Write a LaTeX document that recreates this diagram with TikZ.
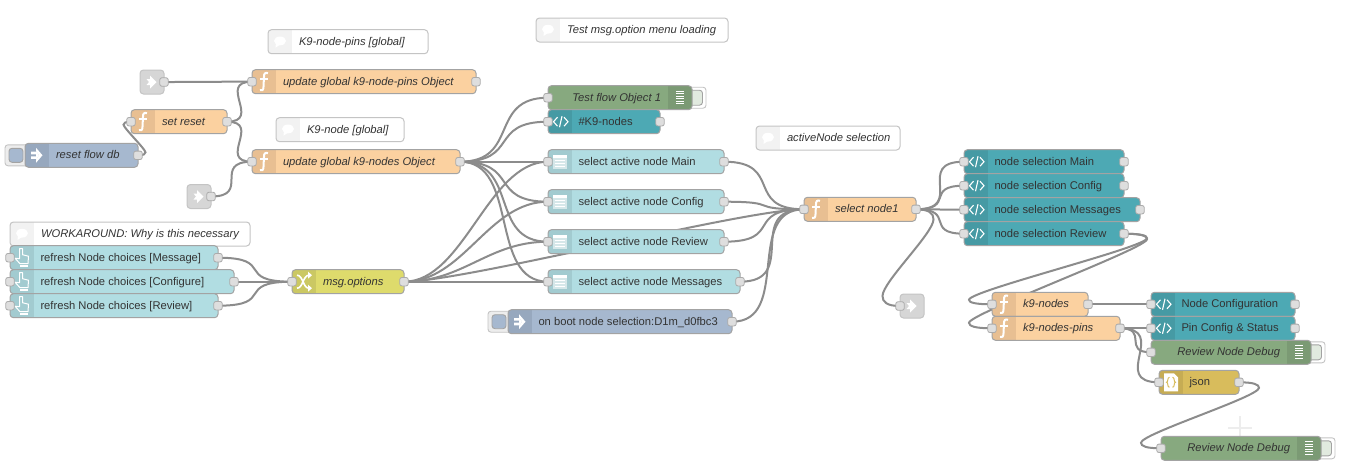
\documentclass[tikz,border=0pt]{standalone}
\usepackage{fontspec}
\setmainfont{Liberation Sans}
\pgfdeclarelayer{wires}
\pgfdeclarelayer{under}
\pgfsetlayers{wires,under,main}
\definecolor{cFun}{HTML}{FBD1A0}\definecolor{cFunD}{HTML}{E8BF92}
\definecolor{cCom}{HTML}{FFFFFF}\definecolor{cComD}{HTML}{F2F2F2}
\definecolor{cInj}{HTML}{A6B8CF}\definecolor{cInjD}{HTML}{97A8BE}
\definecolor{cLnk}{HTML}{D6D6D6}
\definecolor{cTpl}{HTML}{4DA9B4}\definecolor{cTplD}{HTML}{469AA4}
\definecolor{cDrp}{HTML}{B1DDE2}\definecolor{cDrpD}{HTML}{A2CBD0}
\definecolor{cDbg}{HTML}{87A97F}\definecolor{cDbgD}{HTML}{7B9A74}
\definecolor{cChg}{HTML}{DEDB6C}\definecolor{cChgD}{HTML}{CBC863}
\definecolor{cJsn}{HTML}{D8BC5C}\definecolor{cJsnD}{HTML}{C6AC54}
\definecolor{cEdge}{HTML}{A3A3A3}\definecolor{cEdgeL}{HTML}{C4C4C4}
\definecolor{cWire}{HTML}{8C8C8C}
\tikzset{
  nrbox/.style={rectangle,rounded corners=3.5pt,minimum height=24pt,inner sep=0pt,outer sep=0pt},
  nrtext/.style={inner sep=0pt,outer sep=0pt,text=black!80,text height=8pt,text depth=1pt,
     font=\fontsize{11.2}{13}\selectfont},
  nrit/.style={nrtext,font=\fontsize{11.2}{13}\selectfont\itshape},
  portbox/.style={rectangle,rounded corners=2pt,minimum width=8.4pt,minimum height=8.4pt,inner sep=0pt,
     outer sep=0pt,fill=black!13,draw=black!33,line width=.8pt},
  wire/.style={draw=cWire,line width=2pt},
  iconline/.style={draw=white,line width=1.3pt},
}
% name x1 x2 yc fill dark icon label border ; icon area on the left
\newcommand\nrL[9]{%
  \node[nrbox,fill=#5,anchor=west,minimum width={(#3-#2)*1pt}] (#1) at (#2,#4) {};
  \begin{scope}\clip[rounded corners=3.5pt] (#2,{#4-12}) rectangle (#3,{#4+12});
    \fill[#6] (#2,{#4-12}) rectangle ({#2+24},{#4+12});\end{scope}
  \draw[#9,line width=1pt,rounded corners=3.5pt] (#2,{#4-12}) rectangle (#3,{#4+12});
  \begin{scope}[shift={(#2,#4)}]#7\end{scope}
  #8}
% debug node: icon area on the right
\newcommand\nrDbg[5]{%
  \node[nrbox,fill=cDbg,anchor=west,minimum width={(#3-#2)*1pt}] (#1) at (#2,#4) {};
  \begin{scope}\clip[rounded corners=3.5pt] (#2,{#4-12}) rectangle (#3,{#4+12});
    \fill[cDbgD] ({#3-24},{#4-12}) rectangle (#3,{#4+12});\end{scope}
  \draw[cEdge,line width=1pt,rounded corners=3.5pt] (#2,{#4-12}) rectangle (#3,{#4+12});
  \begin{scope}[shift={({#3-12},#4)}]
    \foreach \k in {-6.5,-4,-1.5,1,3.5,6}{\draw[white,line width=1.2pt] (-4,\k)--(4,\k);}
  \end{scope}
  \node[nrit,anchor=east] (#1-t) at ({#3-31},#4) {#5};
  \begin{pgfonlayer}{under}
    \draw[cEdgeL,fill=white,line width=.9pt,rounded corners=3pt] ({#3-5},{#4-10.5}) rectangle ({#3+14},{#4+10.5});
    \draw[cEdge,fill=cDbg!25,line width=.9pt,rounded corners=3pt] ({#3-5},{#4-7.5}) rectangle ({#3+10.5},{#4+7.5});
  \end{pgfonlayer}
  \node[portbox] (#1-i) at (#2,#4) {};}
\newcommand\injBtn[2]{% x1 yc
  \begin{pgfonlayer}{under}
    \draw[cEdgeL,fill=black!7,line width=.9pt,rounded corners=3pt] ({#1-20},{#2-10.5}) rectangle ({#1+5},{#2+10.5});
    \draw[cEdge,fill=cInj,line width=.9pt,rounded corners=3pt] ({#1-16},{#2-7}) rectangle ({#1-2},{#2+7});
  \end{pgfonlayer}}
\newcommand\inPort[1]{\node[portbox] (#1-i) at (#1.west) {};}
\newcommand\outPort[1]{\node[portbox] (#1-o) at (#1.east) {};}
\newcommand\lab[3]{\node[nrtext,anchor=west] (#1-t) at ([xshift=30.5pt]#1.west) {#2};}
\newcommand\labi[3]{\node[nrit,anchor=west] (#1-t) at ([xshift=31pt]#1.west) {#2};}
% icons
\newcommand\icF{\draw[white,line width=2pt] (16,-8.5) .. controls (13,-9.5) and (12,-8) .. (12,-5) -- (11.5,5) .. controls (11.5,8.5) and (10,9.5) .. (8,8.5);
  \draw[white,line width=1.6pt] (8,-2.5)--(16,-2.5);}
\newcommand\icT{\draw[iconline,line width=1.1pt] (9.5,-4.5)--(5.5,0)--(9.5,4.5) (14,-5.5)--(11.5,5.5) (16,-4.5)--(20,0)--(16,4.5);}
\newcommand\icD{\fill[white,opacity=.55] (5,-7) rectangle (19,7);\fill[white] (5,-7) rectangle (19,-3.5);
  \foreach \k in {-1.5,1.5,4.5}{\draw[white,line width=.9pt] (7,\k)--(17,\k);}}
\newcommand\icC{\fill[white] (12,-.8) ellipse (6 and 4.4);\fill[white] (8,1) -- (7.5,6) -- (12,3) -- cycle;}
\newcommand\icI{\fill[white] (6,-3.6) rectangle (12,-1) (6,1) rectangle (12,3.6);\fill[white] (11,-7.5) -- (17.5,0) -- (11,7.5) -- (11,4.5) -- (14,0) -- (11,-4.5) -- cycle;
  \fill[white] (11,-4.5) -- (14,0) -- (11,4.5) -- cycle;}
\newcommand\icL{\fill[white] (10,-6.5) -- (16.5,0) -- (10,6.5) -- (10,3) -- (6.5,3) -- (9,0) -- (6.5,-3) -- (10,-3) -- cycle;}
\newcommand\icH{\draw[iconline,line width=1pt,line join=round] (9.5,-9) -- (12.5,-9) -- (12.5,-3) -- (18.5,-1.5) -- (18,6) -- (10,6) -- (5,0.5) -- (9.5,1) -- cycle;
  \fill[white] (10,7) rectangle (17.5,9.2);}
\newcommand\icS{\draw[white,line width=1.6pt] (5,-6.5) .. controls (11,-6.5) and (11,6.5) .. (17,6.5) (5,6.5) .. controls (11,6.5) and (11,-6.5) .. (17,-6.5);
  \fill[white] (16,-10) -- (20,-6.5) -- (16,-3) -- cycle (16,3) -- (20,6.5) -- (16,10) -- cycle;}
\newcommand\icJ{\fill[white] (5,-9) -- (15,-9) -- (19,-5) -- (19,9) -- (5,9) -- cycle;
  \draw[cJsn,line width=1pt] (10.5,-5) .. controls (8,-5) and (9.5,0) .. (7.5,0) .. controls (9.5,0) and (8,5) .. (10.5,5)
     (13.5,-5) .. controls (16,-5) and (14.5,0) .. (16.5,0) .. controls (14.5,0) and (16,5) .. (13.5,5);}
% forward connector
\newcommand\wire[2]{%
  \pgfpointanchor{#1}{center}\pgfgetlastxy{\wxa}{\wya}%
  \pgfpointanchor{#2}{center}\pgfgetlastxy{\wxb}{\wyb}%
  \pgfmathsetmacro\wdx{\wxb-\wxa}%
  \pgfmathsetmacro\wdy{\wyb-\wya}%
  \pgfmathsetmacro\wdel{veclen(\wdx,\wdy)}%
  \pgfmathsetmacro\wsc{\wdel<80 ? 0.75*\wdel/80 : 0.75}%
  \pgfmathsetmacro\wca{\wxa+80*\wsc}%
  \pgfmathsetmacro\wcc{\wxb-80*\wsc}%
  \draw[wire] (#1.center) .. controls (\wca pt,\wya) and (\wcc pt,\wyb) .. (#2.center);}
% backward connector: #3 bulge, #4 height of the turn, #5 tangent length
\newcommand\wireB[5]{%
  \pgfpointanchor{#1}{center}\pgfgetlastxy{\wxa}{\wya}%
  \pgfpointanchor{#2}{center}\pgfgetlastxy{\wxb}{\wyb}%
  \pgfmathsetmacro\ws{\wyb>\wya ? 1 : -1}%
  \pgfmathsetmacro\wtx{\wxa+#3}%
  \pgfmathsetmacro\wty{\wya+\ws*#4}%
  \pgfmathsetmacro\wbx{\wxb-#3}%
  \pgfmathsetmacro\wby{\wyb-\ws*#4}%
  \pgfmathsetmacro\wca{\wxa+0.75*#3}%
  \pgfmathsetmacro\wcb{\wya+0.4*\ws*#4}%
  \pgfmathsetmacro\wcc{\wty+\ws*#5}%
  \pgfmathsetmacro\wcd{\wby-\ws*#5}%
  \pgfmathsetmacro\wce{\wyb-0.4*\ws*#4}%
  \pgfmathsetmacro\wcf{\wxb-0.75*#3}%
  \draw[wire] (#1.center) .. controls (\wca pt,\wya) and (\wtx pt,\wcb pt) .. (\wtx pt,\wty pt)
    .. controls (\wtx pt,\wcc pt) and (\wbx pt,\wcd pt) .. (\wbx pt,\wby pt)
    .. controls (\wbx pt,\wce pt) and (\wcf pt,\wyb) .. (#2.center);}
\begin{document}
\begin{tikzpicture}[x=1pt,y=-1pt]
\useasboundingbox (0,0) rectangle (1350,472);
\begin{pgfonlayer}{wires}
  \fill[white] (0,0) rectangle (1350,472);
  \draw[black!7,line width=1.6pt] (1228,427.7)--(1252,427.7) (1240,416)--(1240,440);
\end{pgfonlayer}
% comments
\nrL{cPins}{268}{428}{41.7}{cCom}{cComD}{\icC}{}{cEdgeL}\labi{cPins}{K9-node-pins [global]}{}
\nrL{cNode}{276}{404}{129.7}{cCom}{cComD}{\icC}{}{cEdgeL}\labi{cNode}{K9-node [global]}{}
\nrL{cWork}{10}{250}{234}{cCom}{cComD}{\icC}{}{cEdgeL}\labi{cWork}{WORKAROUND: Why is this necessary}{}
\nrL{cTest}{536}{728}{30}{cCom}{cComD}{\icC}{}{cEdgeL}\labi{cTest}{Test msg.option menu loading}{}
\nrL{cSel}{756}{900}{138}{cCom}{cComD}{\icC}{}{cEdgeL}\labi{cSel}{activeNode selection}{}
% left part
\nrL{linkA}{140}{164}{82}{cLnk}{cLnk}{\icL}{}{cEdgeL}\outPort{linkA}
\nrL{linkB}{187}{211}{196.5}{cLnk}{cLnk}{\icL}{}{cEdgeL}\outPort{linkB}
\nrL{updPins}{252}{476}{81.7}{cFun}{cFunD}{\icF}{}{cEdge}\labi{updPins}{update global k9-node-pins Object}{}\inPort{updPins}\outPort{updPins}
\nrL{setReset}{131}{227}{121.7}{cFun}{cFunD}{\icF}{}{cEdge}\labi{setReset}{set reset}{}\inPort{setReset}\outPort{setReset}
\nrL{updNodes}{252}{460}{161.7}{cFun}{cFunD}{\icF}{}{cEdge}\labi{updNodes}{update global k9-nodes Object}{}\inPort{updNodes}\outPort{updNodes}
\injBtn{25}{155.3}
\nrL{resetDb}{25}{138}{155.3}{cInj}{cInjD}{\icI}{}{cEdge}\labi{resetDb}{reset flow db}{}\outPort{resetDb}
\nrL{refMsg}{10}{218}{257.7}{cDrp}{cDrpD}{\icH}{}{cEdge}\lab{refMsg}{refresh Node choices [Message]}{}\inPort{refMsg}\outPort{refMsg}
\nrL{refCfg}{10}{234}{281.7}{cDrp}{cDrpD}{\icH}{}{cEdge}\lab{refCfg}{refresh Node choices [Configure]}{}\inPort{refCfg}\outPort{refCfg}
\nrL{refRev}{10}{218}{305.7}{cDrp}{cDrpD}{\icH}{}{cEdge}\lab{refRev}{refresh Node choices [Review]}{}\inPort{refRev}\outPort{refRev}
\nrL{opts}{292}{404}{281.7}{cChg}{cChgD}{\icS}{}{cEdge}\labi{opts}{msg.options}{}\inPort{opts}\outPort{opts}
% middle part
\nrDbg{dbgTest}{548}{692}{97.7}{Test flow Object 1}
\nrL{tplK}{548}{660}{121.7}{cTpl}{cTplD}{\icT}{}{cEdge}\lab{tplK}{\#K9-nodes}{}\inPort{tplK}\outPort{tplK}
\nrL{sMain}{548}{724}{161.7}{cDrp}{cDrpD}{\icD}{}{cEdge}\lab{sMain}{select active node Main}{}\inPort{sMain}\outPort{sMain}
\nrL{sCfg}{548}{724}{201.7}{cDrp}{cDrpD}{\icD}{}{cEdge}\lab{sCfg}{select active node Config}{}\inPort{sCfg}\outPort{sCfg}
\nrL{sRev}{548}{724}{241.7}{cDrp}{cDrpD}{\icD}{}{cEdge}\lab{sRev}{select active node Review}{}\inPort{sRev}\outPort{sRev}
\nrL{sMsg}{548}{740}{281.7}{cDrp}{cDrpD}{\icD}{}{cEdge}\lab{sMsg}{select active node Messages}{}\inPort{sMsg}\outPort{sMsg}
\injBtn{508}{321.7}
\nrL{boot}{508}{732}{321.7}{cInj}{cInjD}{\icI}{}{cEdge}\lab{boot}{on boot node selection:D1m\_d0fbc3}{}\outPort{boot}
\nrL{selN}{804}{916}{209.3}{cFun}{cFunD}{\icF}{}{cEdge}\labi{selN}{select node1}{}\inPort{selN}\outPort{selN}
% right part
\nrL{nMain}{964}{1124}{161.7}{cTpl}{cTplD}{\icT}{}{cEdge}\lab{nMain}{node selection Main}{}\inPort{nMain}\outPort{nMain}
\nrL{nCfg}{964}{1124}{185.7}{cTpl}{cTplD}{\icT}{}{cEdge}\lab{nCfg}{node selection Config}{}\inPort{nCfg}\outPort{nCfg}
\nrL{nMsg}{964}{1140}{209.7}{cTpl}{cTplD}{\icT}{}{cEdge}\lab{nMsg}{node selection Messages}{}\inPort{nMsg}\outPort{nMsg}
\nrL{nRev}{964}{1124}{233.7}{cTpl}{cTplD}{\icT}{}{cEdge}\lab{nRev}{node selection Review}{}\inPort{nRev}\outPort{nRev}
\nrL{linkC}{900}{924}{306}{cLnk}{cLnk}{\icL}{}{cEdgeL}\inPort{linkC}
\nrL{fNodes}{992}{1088}{304.3}{cFun}{cFunD}{\icF}{}{cEdge}\labi{fNodes}{k9-nodes}{}\inPort{fNodes}\outPort{fNodes}
\nrL{fPins}{992}{1120}{328.3}{cFun}{cFunD}{\icF}{}{cEdge}\labi{fPins}{k9-nodes-pins}{}\inPort{fPins}\outPort{fPins}
\nrL{tCfg}{1151}{1295}{304.3}{cTpl}{cTplD}{\icT}{}{cEdge}\lab{tCfg}{Node Configuration}{}\inPort{tCfg}\outPort{tCfg}
\nrL{tPin}{1151}{1295}{328.3}{cTpl}{cTplD}{\icT}{}{cEdge}\lab{tPin}{Pin Config \& Status}{}\inPort{tPin}\outPort{tPin}
\nrDbg{dbgA}{1151}{1311}{352.3}{Review Node Debug}
\nrL{jsn}{1159}{1239}{382.3}{cJsn}{cJsnD}{\icJ}{}{cEdge}\lab{jsn}{json}{}\inPort{jsn}\outPort{jsn}
\nrDbg{dbgB}{1161}{1321}{448.3}{Review Node Debug}
% connectors
\begin{pgfonlayer}{wires}
\wire{linkA-o}{updPins-i}
\wire{setReset-o}{updPins-i}
\wire{setReset-o}{updNodes-i}
\wire{linkB-o}{updNodes-i}
\wireB{resetDb-o}{setReset-i}{7.5}{3}{3}
\wire{updNodes-o}{dbgTest-i}
\wire{updNodes-o}{tplK-i}
\wire{updNodes-o}{sMain-i}
\wire{updNodes-o}{sCfg-i}
\wire{updNodes-o}{sRev-i}
\wire{updNodes-o}{sMsg-i}
\wire{refMsg-o}{opts-i}
\wire{refCfg-o}{opts-i}
\wire{refRev-o}{opts-i}
\wire{opts-o}{sMain-i}
\wire{opts-o}{sCfg-i}
\wire{opts-o}{sRev-i}
\wire{opts-o}{sMsg-i}
\wire{opts-o}{selN-i}
\wire{sMain-o}{selN-i}
\wire{sCfg-o}{selN-i}
\wire{sRev-o}{selN-i}
\wire{sMsg-o}{selN-i}
\wire{boot-o}{selN-i}
\wire{selN-o}{nMain-i}
\wire{selN-o}{nCfg-i}
\wire{selN-o}{nMsg-i}
\wire{selN-o}{nRev-i}
\wireB{selN-o}{linkC-i}{17.5}{10}{14}
\wireB{nRev-o}{fNodes-i}{23}{4.5}{9}
\wireB{nRev-o}{fPins-i}{23}{5.5}{9}
\wire{fNodes-o}{tCfg-i}
\wire{fPins-o}{tPin-i}
\wire{fPins-o}{dbgA-i}
\wire{fPins-o}{jsn-i}
\wireB{jsn-o}{dbgB-i}{20}{5.5}{9}
\end{pgfonlayer}
\end{tikzpicture}
\end{document}
